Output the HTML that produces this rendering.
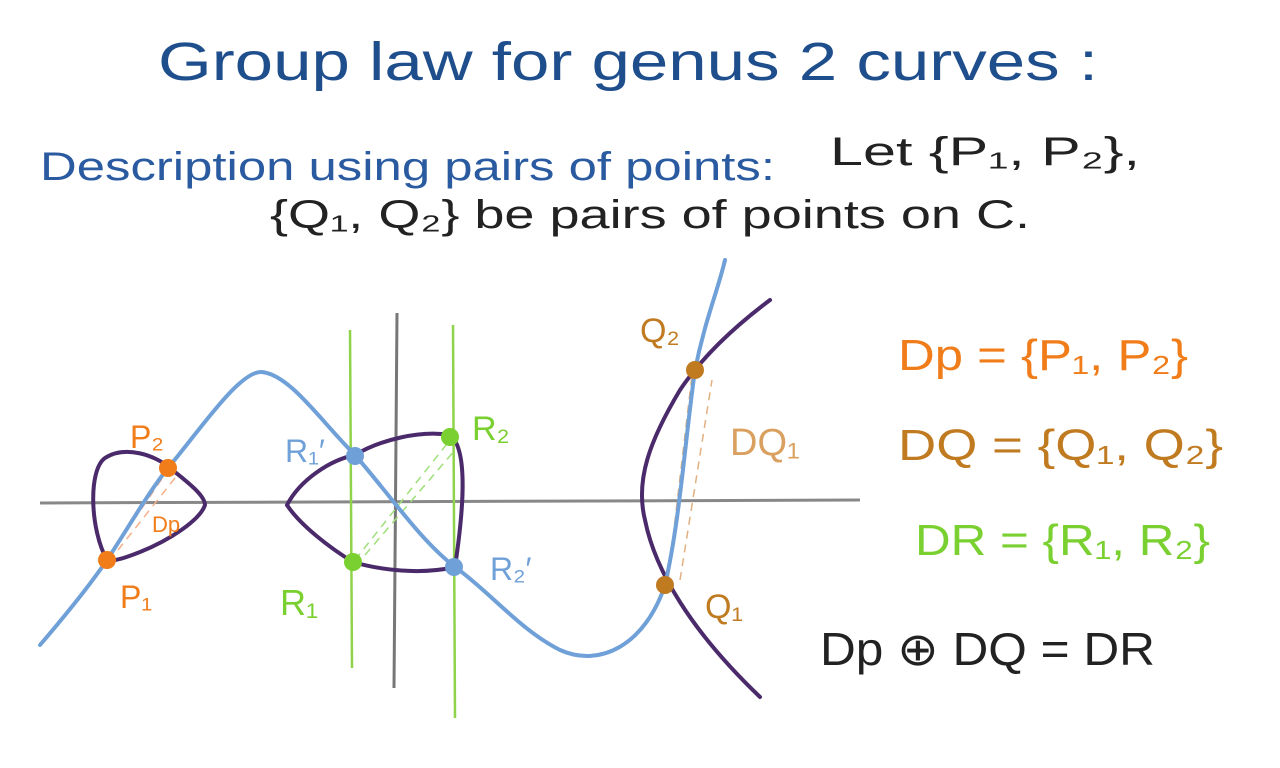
<!DOCTYPE html>
<html><head><meta charset="utf-8"><style>
html,body{margin:0;padding:0;background:#fff;width:1280px;height:768px;overflow:hidden}
svg{display:block}
text{font-family:"Liberation Sans",sans-serif}
</style></head><body>
<svg width="1280" height="768" viewBox="0 0 1280 768" xmlns="http://www.w3.org/2000/svg">
<text x="158" y="80" font-size="54" fill="#1f4e8c" textLength="940" lengthAdjust="spacingAndGlyphs">Group law for genus 2 curves :</text>
<text x="40" y="180" font-size="40" fill="#2a5aa0" textLength="735" lengthAdjust="spacingAndGlyphs">Description using pairs of points:</text>
<text x="830" y="165" font-size="40" fill="#222" textLength="310" lengthAdjust="spacingAndGlyphs">Let {P₁, P₂},</text>
<text x="270" y="228" font-size="40" fill="#222" textLength="760" lengthAdjust="spacingAndGlyphs">{Q₁, Q₂} be pairs of points on C.</text>

<line x1="40" y1="503" x2="860" y2="500" stroke="#888" stroke-width="3"/>
<line x1="397" y1="313" x2="394" y2="688" stroke="#777" stroke-width="3"/>
<line x1="350" y1="330" x2="352" y2="668" stroke="#8fd34a" stroke-width="2.5"/>
<line x1="453" y1="325" x2="455" y2="718" stroke="#8fd34a" stroke-width="2.5"/>

<g stroke-dasharray="8 6" stroke-width="1.5" fill="none">
<path d="M110 555 L168 470 M118 550 L175 478" stroke="#f5b08a"/>
<path d="M355 560 L450 440 M365 555 L455 450" stroke="#9fe07a"/>
<path d="M668 580 L692 375 M680 580 L712 380" stroke="#e0b080"/>
</g>

<g fill="none" stroke="#4a2a6a" stroke-width="4" stroke-linecap="round">
<path d="M107 560 C90 530 88 470 105 458 C125 445 155 455 170 468 C185 480 205 495 205 505 C200 520 170 540 140 552 C125 558 112 562 107 560 Z"/>
<path d="M287 505 C300 480 330 460 355 455 C380 440 420 430 450 435 C470 450 462 520 455 567 C420 575 380 570 353 562 C330 548 300 525 287 505 Z"/>
<path d="M770 300 C730 330 700 360 680 390 C650 440 635 480 645 520 C655 570 690 630 760 697"/>
</g>

<path d="M40 645 C70 610 90 585 107 560 C130 525 150 490 168 468 C200 430 240 370 262 372 C290 375 320 420 355 455 C390 495 420 540 455 567 C490 592 520 630 560 650 C600 668 645 645 665 585 C680 520 685 440 695 370 C705 320 718 290 725 260" fill="none" stroke="#6fa0d8" stroke-width="4" stroke-linecap="round"/>

<circle cx="107" cy="560" r="9" fill="#f07c1a"/>
<circle cx="168" cy="468" r="9" fill="#f07c1a"/>
<circle cx="355" cy="456" r="9" fill="#6fa0d8"/>
<circle cx="450" cy="437" r="9" fill="#7ad030"/>
<circle cx="353" cy="562" r="9" fill="#7ad030"/>
<circle cx="454" cy="567" r="9" fill="#6fa0d8"/>
<circle cx="695" cy="370" r="9" fill="#c07a20"/>
<circle cx="665" cy="585" r="9" fill="#c07a20"/>

<text x="130" y="448" font-size="32" fill="#f07c1a">P₂</text>
<text x="120" y="608" font-size="32" fill="#f07c1a">P₁</text>
<text x="152" y="532" font-size="22" fill="#f07c1a">Dp</text>
<text x="285" y="462" font-size="32" fill="#6fa0d8">R₁′</text>
<text x="472" y="440" font-size="34" fill="#7ad030">R₂</text>
<text x="280" y="615" font-size="36" fill="#7ad030">R₁</text>
<text x="490" y="580" font-size="32" fill="#6fa0d8">R₂′</text>
<text x="640" y="342" font-size="34" fill="#c07a20">Q₂</text>
<text x="705" y="618" font-size="34" fill="#c07a20">Q₁</text>
<text x="730" y="455" font-size="38" fill="#d9a060">DQ₁</text>

<text x="898" y="370" font-size="44" fill="#f07c1a" textLength="290" lengthAdjust="spacingAndGlyphs">Dp = {P₁, P₂}</text>
<text x="898" y="460" font-size="44" fill="#c07a20" textLength="325" lengthAdjust="spacingAndGlyphs">DQ = {Q₁, Q₂}</text>
<text x="915" y="555" font-size="44" fill="#7ad030" textLength="295" lengthAdjust="spacingAndGlyphs">DR = {R₁, R₂}</text>
<text x="820" y="665" font-size="46" fill="#222" textLength="335" lengthAdjust="spacingAndGlyphs">Dp ⊕ DQ = DR</text>
</svg>
</body></html>
